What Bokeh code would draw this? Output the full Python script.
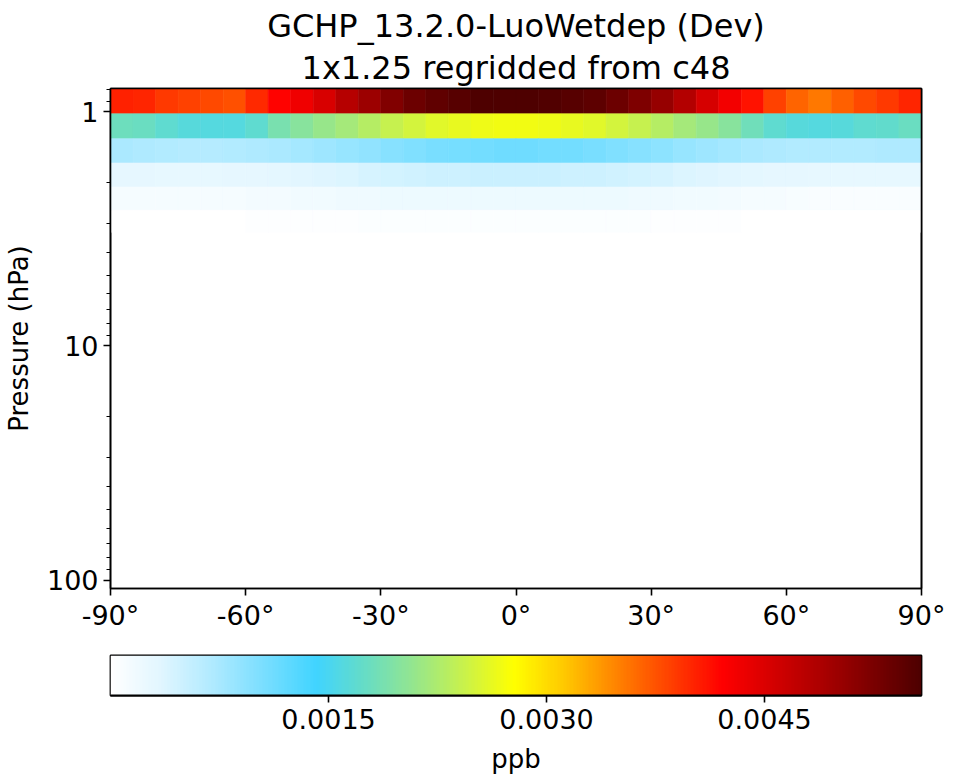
import numpy as np
from bokeh.plotting import figure
from bokeh.models import (Range1d, FixedTicker, LinearColorMapper, BasicTickFormatter,
                          ColumnDataSource, LogTicker, LinearAxis, LogAxis, Title)
from bokeh.layouts import column
from bokeh.embed import file_html
from bokeh.resources import INLINE

# ---------------- data ----------------
title_line1 = "GCHP_13.2.0-LuoWetdep (Dev)"
title_line2 = "1x1.25 regridded from c48"
lat_edges = [-90, -85, -80, -75, -70, -65, -60, -55, -50, -45, -40, -35, -30, -25, -20, -15, -10, -5,
             0, 5, 10, 15, 20, 25, 30, 35, 40, 45, 50, 55, 60, 65, 70, 75, 80, 85, 90]
p_edges = [0.7951, 1.0194, 1.3020, 1.6546, 2.0960, 2.6350, 3.2730]

band1 = [0.00402, 0.00400, 0.00390, 0.00385, 0.00380, 0.00376, 0.00398, 0.00420, 0.00432, 0.00452,
         0.00480, 0.00500, 0.00520, 0.00535, 0.00544, 0.00550, 0.00556, 0.00558, 0.00558, 0.00555,
         0.00551, 0.00545, 0.00535, 0.00522, 0.00505, 0.00482, 0.00455, 0.00430, 0.00410, 0.00385,
         0.00365, 0.00355, 0.00368, 0.00380, 0.00390, 0.00400]
band2 = [0.00180, 0.00178, 0.00170, 0.00163, 0.00160, 0.00160, 0.00170, 0.00188, 0.00200, 0.00210,
         0.00220, 0.00230, 0.00240, 0.00250, 0.00258, 0.00263, 0.00268, 0.00270, 0.00270, 0.00268,
         0.00263, 0.00258, 0.00250, 0.00240, 0.00230, 0.00220, 0.00210, 0.00200, 0.00182, 0.00170,
         0.00162, 0.00160, 0.00162, 0.00168, 0.00172, 0.00178]
band3 = [0.00072, 0.00070, 0.00068, 0.00067, 0.00067, 0.00068, 0.00070, 0.00073, 0.00077, 0.00081,
         0.00086, 0.00091, 0.00096, 0.00101, 0.00105, 0.00108, 0.00111, 0.00112, 0.00112, 0.00111,
         0.00109, 0.00106, 0.00102, 0.00097, 0.00092, 0.00087, 0.00082, 0.00078, 0.00074, 0.00071,
         0.00069, 0.00068, 0.00068, 0.00069, 0.00070, 0.00071]
band4 = [0.00030, 0.00029, 0.00028, 0.00028, 0.00028, 0.00029, 0.00030, 0.00032, 0.00034, 0.00036,
         0.00039, 0.00042, 0.00045, 0.00047, 0.00049, 0.00050, 0.00051, 0.00051, 0.00051, 0.00051,
         0.00050, 0.00049, 0.00047, 0.00045, 0.00042, 0.00039, 0.00036, 0.00034, 0.00032, 0.00030,
         0.00029, 0.00028, 0.00027, 0.00027, 0.00027, 0.00027]
band5 = [0.00012, 0.00012, 0.00012, 0.00012, 0.00012, 0.00013, 0.00014, 0.00015, 0.00016, 0.00017,
         0.00018, 0.00019, 0.00020, 0.00020, 0.00021, 0.00021, 0.00021, 0.00021, 0.00021, 0.00021,
         0.00021, 0.00020, 0.00020, 0.00019, 0.00018, 0.00017, 0.00016, 0.00015, 0.00013, 0.00011,
         0.00009, 0.00008, 0.00007, 0.00007, 0.00007, 0.00007]
band6 = [0.00001, 0.00001, 0.00001, 0.00001, 0.00001, 0.00002, 0.00003, 0.00003, 0.00004, 0.00004,
         0.00004, 0.00005, 0.00005, 0.00005, 0.00005, 0.00005, 0.00005, 0.00005, 0.00005, 0.00005,
         0.00005, 0.00005, 0.00005, 0.00005, 0.00004, 0.00004, 0.00004, 0.00003, 0.00002, 0.00001,
         0.00001, 0.00001, 0.00001, 0.00001, 0.00001, 0.00001]
bands = [band1, band2, band3, band4, band5, band6]

cbar_low = 0.0
cbar_high = 0.00558
cbar_ticks = [0.0015, 0.0030, 0.0045]
cbar_labels = ["0.0015", "0.0030", "0.0045"]
x_ticks = [-90, -60, -30, 0, 30, 60, 90]
x_labels = ["-90°", "-60°", "-30°", "0°", "30°", "60°", "90°"]

# ---------------- colormap (WhGrYlRd-like) ----------------
anchors = [
    (0.000, (255, 255, 255)),
    (0.060, (225, 246, 255)),
    (0.125, (175, 234, 255)),
    (0.190, (120, 222, 255)),
    (0.253, (64, 212, 255)),
    (0.310, (100, 220, 200)),
    (0.375, (150, 230, 140)),
    (0.440, (205, 243, 70)),
    (0.497, (255, 255, 0)),
    (0.560, (255, 200, 0)),
    (0.625, (255, 130, 0)),
    (0.690, (255, 65, 0)),
    (0.755, (255, 0, 0)),
    (0.880, (170, 0, 0)),
    (1.000, (78, 0, 0)),
]
pos = np.array([a[0] for a in anchors])
cols = np.array([a[1] for a in anchors], dtype=float)
t = np.linspace(0, 1, 256)
palette = []
for tt in t:
    rgb = [int(round(np.interp(tt, pos, cols[:, k]))) for k in range(3)]
    palette.append("#%02x%02x%02x" % tuple(rgb))

mapper = LinearColorMapper(palette=palette, low=cbar_low, high=cbar_high)

# ---------------- build quads ----------------
left, right, top, bottom, val = [], [], [], [], []
for j, row in enumerate(bands):
    for i, v in enumerate(row):
        left.append(lat_edges[i])
        right.append(lat_edges[i + 1])
        top.append(p_edges[j])
        bottom.append(p_edges[j + 1])
        val.append(v)
src = ColumnDataSource(dict(left=left, right=right, top=top, bottom=bottom, val=val))

FONT = "DejaVu Sans"
TICK_FS = "27px"
LABEL_FS = "26px"
TITLE_FS = "32px"

p = figure(frame_width=811, frame_height=500, y_axis_type="log",
           x_range=Range1d(-90, 90), y_range=Range1d(108.66, 0.7951),
           output_backend="svg", toolbar_location=None,
           min_border_left=110, min_border_right=40, min_border_top=88, min_border_bottom=52,
           title=title_line1)
p.quad(left="left", right="right", top="top", bottom="bottom", source=src,
       fill_color={"field": "val", "transform": mapper},
       line_color={"field": "val", "transform": mapper}, line_width=0.6)

xax = p.below[0]
yax = p.left[0]

p.title.align = "center"
p.title.text_font = FONT
p.title.text_font_size = TITLE_FS
p.title.text_font_style = "normal"
p.title.text_color = "black"
p.title.standoff = 0
p.title.offset = 0

p.xgrid.visible = False
p.ygrid.visible = False
p.outline_line_color = "black"
p.outline_line_width = 1.6
p.outline_line_alpha = 1.0

# spines drawn above the data (right and top)
rax = LogAxis(ticker=LogTicker(num_minor_ticks=10))
tax = LinearAxis(ticker=FixedTicker(ticks=x_ticks))
for ax in (rax, tax):
    ax.major_tick_line_color = None
    ax.minor_tick_line_color = None
    ax.major_tick_out = 0
    ax.minor_tick_out = 0
    ax.major_label_standoff = 0
    ax.major_label_text_font_size = "0px"
    ax.major_label_text_alpha = 0
    ax.axis_line_color = "black"
    ax.axis_line_width = 1.6
p.add_layout(rax, "right")
p.add_layout(tax, "above")

t2 = Title(text=title_line2, align="center", text_font=FONT, text_font_size=TITLE_FS,
           text_font_style="normal", text_color="black", standoff=4)
p.add_layout(t2, "above")

for ax in (xax, yax):
    ax.axis_line_color = "black"
    ax.axis_line_width = 1.6
    ax.major_tick_line_width = 1.6
    ax.minor_tick_line_width = 1.2
    ax.major_tick_in = 0
    ax.major_tick_out = 7
    ax.minor_tick_in = 0
    ax.minor_tick_out = 4
    ax.major_label_text_font = FONT
    ax.major_label_text_font_size = TICK_FS
    ax.major_label_text_color = "black"
    ax.axis_label_text_font = FONT
    ax.axis_label_text_font_size = LABEL_FS
    ax.axis_label_text_font_style = "normal"
    ax.axis_label_text_color = "black"

xax.ticker = FixedTicker(ticks=x_ticks)
xax.major_label_overrides = {k: v for k, v in zip(x_ticks, x_labels)}
xax.major_label_standoff = 4
yax.ticker = LogTicker(num_minor_ticks=10)
yax.formatter = BasicTickFormatter()
yax.axis_label = "Pressure (hPa)"
yax.major_label_standoff = 5
yax.axis_label_standoff = 10

# ---------------- colorbar figure ----------------
cb = figure(frame_width=811, frame_height=40,
            x_range=Range1d(cbar_low, cbar_high), y_range=Range1d(0, 1),
            output_backend="svg", toolbar_location=None,
            min_border_left=110, min_border_right=40, min_border_top=15, min_border_bottom=84)
grad = np.linspace(cbar_low, cbar_high, 512).reshape(1, -1)
cb.image(image=[grad], x=cbar_low, y=0, dw=cbar_high - cbar_low, dh=1, color_mapper=mapper)
cb.xgrid.visible = False
cb.ygrid.visible = False
cb.yaxis.visible = False
cb.outline_line_color = "black"
cb.outline_line_width = 1.8
cbx = cb.below[0]
cbx.ticker = FixedTicker(ticks=cbar_ticks)
cbx.major_label_overrides = {k: v for k, v in zip(cbar_ticks, cbar_labels)}
cbx.minor_tick_line_color = None
cbx.axis_line_color = "black"
cbx.axis_line_width = 1.8
cbx.major_tick_in = 0
cbx.major_tick_out = 7
cbx.major_tick_line_width = 1.6
cbx.major_label_text_font = FONT
cbx.major_label_text_font_size = TICK_FS
cbx.major_label_text_color = "black"
cbx.major_label_standoff = 6
cbx.axis_label = "ppb"
cbx.axis_label_text_font = FONT
cbx.axis_label_text_font_size = LABEL_FS
cbx.axis_label_text_font_style = "normal"
cbx.axis_label_text_color = "black"
cbx.axis_label_standoff = 12

layout = column(p, cb, spacing=0)
open("out.html", "w").write(file_html(layout, INLINE))
